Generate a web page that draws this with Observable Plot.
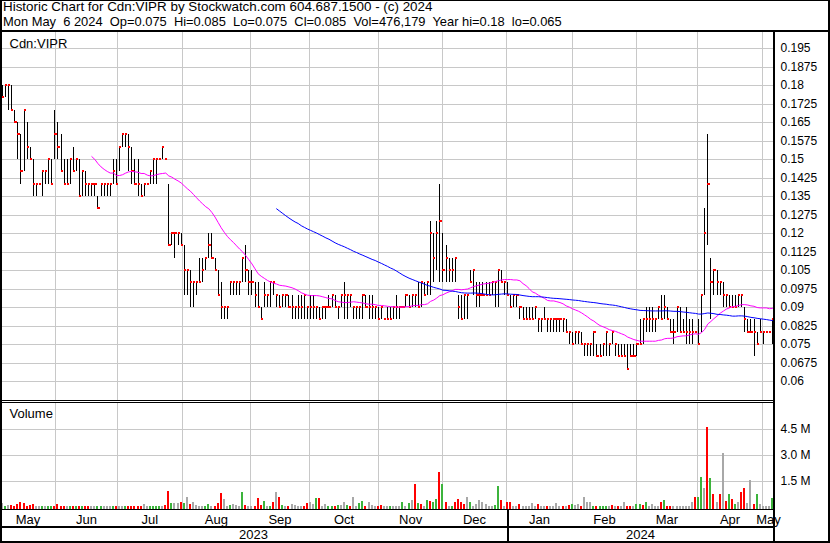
<!DOCTYPE html>
<html><head><meta charset="utf-8">
<script src="https://cdn.jsdelivr.net/npm/d3@7"></script>
<script src="https://cdn.jsdelivr.net/npm/@observablehq/plot@0.6"></script>
<style>
body{margin:0;background:#fff;}
#chart{position:relative;width:830px;height:543px;background:#fff;font-family:Arial,"Liberation Sans",sans-serif;color:#000;overflow:hidden;}
#chart svg{position:absolute;left:0;}
.hdr{position:absolute;left:3px;white-space:pre;line-height:12px;height:12px;}
.ln{position:absolute;background:#000;}
</style></head><body><div id="chart"></div>
<script>
// ---- data ----
const headerLines = [
  "Historic Chart for Cdn:VIPR by Stockwatch.com 604.687.1500 - (c) 2024",
  "Mon May  6 2024  Op=0.075  Hi=0.085  Lo=0.075  Cl=0.085  Vol=476,179  Year hi=0.18  lo=0.065"
];
const symbolLabel = "Cdn:VIPR";
const volumeLabel = "Volume";
const low = [
.175,.175,.17,.17,.165,.15,.14,.145,.15,.15,
.135,.135,.14,.135,.14,.14,.14,.15,.15,.145,
.14,.14,.14,.145,.145,.135,.135,.135,.135,.135,
.135,.13,.135,.135,.135,.135,.14,.14,.145,.155,
.155,.145,.14,.14,.135,.135,.135,.14,.14,.14,
.14,.15,.15,.15,.115,.115,.11,.115,.115,.095,
.095,.09,.09,.095,.1,.1,.105,.11,.11,.105,
.095,.085,.085,.085,.095,.095,.095,.095,.1,.1,
.095,.095,.09,.09,.085,.09,.09,.09,.095,.09,
.09,.09,.09,.09,.085,.085,.085,.085,.085,.085,
.085,.085,.085,.085,.085,.085,.09,.09,.09,.085,
.09,.085,.085,.09,.085,.085,.085,.085,.09,.085,
.085,.085,.085,.085,.085,.085,.085,.085,.085,.085,
.09,.09,.09,.09,.09,.09,.09,.095,.095,.095,
.1,.105,.1,.1,.1,.1,.1,.1,.085,.085,
.085,.085,.1,.095,.09,.09,.095,.095,.095,.095,
.09,.09,.1,.095,.095,.09,.09,.09,.085,.085,
.085,.085,.085,.085,.08,.08,.085,.08,.08,.08,
.08,.08,.08,.08,.075,.075,.075,.075,.075,.07,
.07,.07,.07,.07,.07,.07,.07,.07,.075,.07,
.07,.07,.07,.065,.07,.07,.07,.075,.075,.08,
.08,.08,.08,.085,.085,.085,.085,.08,.075,.08,
.08,.08,.075,.075,.075,.08,.075,.08,.095,.115,
.085,.095,.095,.095,.09,.09,.09,.09,.09,.09,
.09,.08,.08,.08,.07,.075,.08,.075,.08,.08,
.075];
const high = [
.18,.18,.18,.18,.17,.165,.16,.17,.165,.155,
.15,.14,.14,.145,.145,.15,.15,.17,.165,.16,
.15,.15,.15,.155,.15,.15,.145,.145,.14,.14,
.14,.135,.14,.14,.14,.14,.15,.15,.155,.16,
.16,.16,.155,.15,.15,.14,.14,.14,.145,.15,
.15,.15,.155,.15,.14,.12,.12,.12,.12,.115,
.105,.105,.1,.1,.11,.11,.11,.12,.12,.11,
.105,.1,.09,.09,.1,.1,.1,.1,.11,.115,
.105,.105,.1,.1,.09,.1,.095,.1,.1,.095,
.095,.095,.095,.095,.095,.09,.095,.095,.095,.09,
.095,.095,.09,.09,.09,.09,.095,.095,.095,.09,
.095,.1,.095,.095,.09,.09,.09,.095,.095,.095,
.095,.09,.09,.09,.085,.09,.09,.09,.095,.09,
.09,.095,.095,.095,.095,.1,.1,.1,.1,.125,
.12,.125,.14,.12,.115,.11,.11,.11,.095,.095,
.095,.095,.105,.105,.1,.1,.1,.1,.1,.1,
.1,.105,.105,.1,.1,.095,.095,.095,.09,.09,
.09,.09,.09,.09,.085,.085,.09,.085,.085,.085,
.085,.085,.085,.085,.08,.08,.08,.08,.08,.075,
.075,.075,.08,.075,.075,.075,.08,.075,.08,.075,
.075,.075,.075,.075,.075,.075,.075,.085,.085,.09,
.09,.09,.085,.09,.095,.095,.09,.085,.085,.09,
.09,.085,.09,.085,.085,.08,.085,.095,.13,.16,
.11,.105,.105,.1,.1,.095,.095,.095,.095,.095,
.095,.09,.085,.085,.085,.08,.085,.08,.08,.08,
.085];
const close = [
.175,.18,.18,.17,.165,.16,.145,.17,.155,.15,
.14,.14,.14,.145,.145,.15,.14,.16,.155,.145,
.14,.14,.15,.145,.15,.135,.145,.14,.14,.14,
.14,.13,.14,.14,.14,.14,.145,.14,.155,.16,
.16,.155,.145,.14,.14,.135,.14,.14,.145,.15,
.15,.15,.155,.15,.115,.12,.12,.12,.115,.105,
.105,.1,.1,.1,.1,.105,.11,.115,.11,.105,
.095,.09,.09,.09,.1,.1,.1,.1,.11,.105,
.1,.1,.095,.09,.085,.095,.095,.1,.1,.095,
.09,.095,.095,.09,.09,.09,.09,.09,.095,.09,
.09,.09,.09,.085,.09,.09,.09,.095,.09,.09,
.095,.095,.095,.095,.09,.09,.09,.095,.09,.09,
.09,.09,.085,.09,.085,.085,.085,.09,.09,.09,
.09,.095,.09,.095,.095,.09,.1,.095,.1,.12,
.11,.12,.125,.105,.11,.105,.105,.11,.09,.085,
.095,.095,.1,.105,.095,.095,.095,.095,.095,.1,
.1,.105,.1,.1,.095,.09,.095,.095,.09,.085,
.085,.085,.085,.09,.085,.085,.085,.085,.085,.085,
.085,.085,.085,.08,.08,.075,.08,.08,.075,.075,
.075,.075,.08,.07,.07,.075,.08,.075,.08,.075,
.07,.07,.07,.065,.07,.07,.075,.075,.085,.085,
.085,.085,.085,.09,.085,.09,.085,.08,.08,.09,
.08,.08,.08,.08,.08,.08,.075,.095,.12,.14,
.1,.105,.1,.1,.095,.095,.09,.09,.09,.095,
.095,.085,.08,.08,.08,.075,.08,.08,.08,.08,
.085];
// volume in thousands of shares
const volume = [
210,20,90,90,50,130,260,210,50,90,
170,20,20,30,20,20,30,50,170,20,
20,20,20,50,20,50,30,20,20,20,
20,20,50,20,20,20,20,20,20,20,
20,20,20,20,50,30,150,20,20,20,
20,20,20,110,920,230,230,230,280,210,
570,150,280,90,20,20,30,130,20,20,
230,760,440,20,110,150,110,20,860,110,
20,50,20,510,90,340,20,50,280,860,
570,90,20,20,150,90,50,20,20,230,
240,130,480,510,20,170,30,30,30,90,
90,260,90,20,570,50,210,340,20,260,
90,20,20,90,20,20,50,20,20,20,
260,50,210,400,1320,210,130,20,380,320,
240,440,2010,1320,280,20,50,280,440,240,
130,570,280,50,150,400,240,130,20,10,
90,1210,380,10,240,280,20,20,170,20,
20,20,210,20,150,20,20,20,20,20,
210,20,20,20,90,150,90,130,50,570,
280,280,20,50,20,20,20,20,110,20,
20,20,280,50,50,20,150,150,90,240,
50,150,50,20,280,400,20,20,50,20,
20,50,50,50,280,570,570,1690,1090,4610,
1630,710,280,710,3090,340,740,440,170,280,
860,1050,210,1510,170,740,170,20,20,20,
476];
// u = up (green), d = down (red), n = unchanged (grey)
const volDir = (
"nunddddddd"+"dnnunuuddd"+"dnudududdn"+"nuunnnudnn"+"udddddnnuu"+
"uunddunndu"+"ndnnnnuund"+"ddnnunnnud"+"nndddunudn"+"dundnnnndd"+
"nnudnnuudu"+"nnudnnuudn"+"nnddnnunnn"+"unundudnud"+"uududnuddd"+
"dnunnnnnnn"+"uudnddnndn"+"nnnndnndnn"+"nndndunndn"+"nnuduuundn"+
"dnnddnuudu"+"nnnnduddnn"+"nnnnnduund"+"udndndudun"+"ddnndunnnn"+"u").split("");
const priceTicks = [0.06,0.0675,0.075,0.0825,0.09,0.0975,0.105,0.1125,0.12,0.1275,0.135,0.1425,0.15,0.1575,0.165,0.1725,0.18,0.1875,0.195];
const priceTickLabels = ["0.06","0.0675","0.075","0.0825","0.09","0.0975","0.105","0.1125","0.12","0.1275","0.135","0.1425","0.15","0.1575","0.165","0.1725","0.18","0.1875","0.195"];
const volTicks = [1500,3000,4500];
const volTickLabels = ["1.5 M","3.0 M","4.5 M"];
// month boundaries, in trading-day slots
const monthStarts = [17.2,37.3,58.4,80.5,99.7,122.1,142.9,163.6,185.1,205.8,225.6,246.8];
const monthLabels = ["May","Jun","Jul","Aug","Sep","Oct","Nov","Dec","Jan","Feb","Mar","Apr","May"];
const yearLabels = ["2023","2024"];

// ---- build ----
const N = close.length;
if (low.length!==N||high.length!==N||volume.length!==N||volDir.length!==N) throw new Error("length mismatch "+[low.length,high.length,close.length,volume.length,volDir.length]);
const bars = close.map((c,i)=>({i, low:low[i], high:high[i], close:c, vol:volume[i], dir:volDir[i]}));
const xDomain = [-0.65, N - 0.35];
const FONT = "Arial, 'Liberation Sans', sans-serif";
const GRID = "#c8c8c8";
const chart = document.getElementById("chart");

const hdrStyle = [{top: 1, size: 13.4}, {top: 16, size: 12.9}];
headerLines.forEach((t,k)=>{const d=document.createElement("div");d.className="hdr";d.style.top=hdrStyle[k].top+"px";d.style.fontSize=hdrStyle[k].size+"px";d.textContent=t;chart.appendChild(d);});

const priceDomain = [0.051892, 0.201892];
const price = Plot.plot({
  width: 830, height: 370, marginLeft: 0, marginRight: 56, marginTop: 0, marginBottom: 0,
  style: {fontFamily: FONT, fontSize: "12px", background: "transparent", overflow: "visible", color: "#000"},
  x: {domain: xDomain, axis: null},
  y: {domain: priceDomain, label: null},
  marks: [
    Plot.ruleY(priceTicks, {stroke: GRID, strokeWidth: 1, shapeRendering: "crispEdges"}),
    Plot.ruleX(monthStarts, {stroke: GRID, strokeWidth: 1, shapeRendering: "crispEdges"}),
    Plot.axisY(priceTicks, {anchor: "right", tickSize: 0, tickPadding: 6, label: null, fontSize: 12,
      tickFormat: d => priceTickLabels[priceTicks.indexOf(d)]}),
    Plot.ruleX(bars, {x: "i", y1: "low", y2: "high", stroke: "#000", strokeWidth: 1, shapeRendering: "crispEdges"}),
    Plot.rect(bars, {x1: "i", x2: "i", y1: "close", y2: "close", insetLeft: 0, insetRight: -2.2, insetTop: -1.1, insetBottom: -1.1, fill: "#ff0000", shapeRendering: "crispEdges"}),
    Plot.line(bars, Plot.windowY({k: 30, anchor: "end", strict: true}, {x: "i", y: "close", stroke: "#ff00ff", strokeWidth: 1})),
    Plot.line(bars, Plot.windowY({k: 90, anchor: "end", strict: true}, {x: "i", y: "close", stroke: "#0000ff", strokeWidth: 1})),
    Plot.text([symbolLabel], {frameAnchor: "top-left", dx: 9, dy: 12, lineAnchor: "middle", textAnchor: "start", fontSize: 13})
  ]
});
price.style.top = "31px";
chart.appendChild(price);

const volMin = -144, volMax = 6029;
const vol = Plot.plot({
  width: 830, height: 107, marginLeft: 0, marginRight: 56, marginTop: 0, marginBottom: 0,
  style: {fontFamily: FONT, fontSize: "12px", background: "transparent", overflow: "visible", color: "#000"},
  x: {domain: xDomain, axis: null},
  y: {domain: [volMin, volMax], label: null},
  color: {domain: ["u","d","n"], range: ["#3cb43c","#ff0000","#a8a8a8"]},
  marks: [
    Plot.ruleY(volTicks, {stroke: GRID, strokeWidth: 1, shapeRendering: "crispEdges"}),
    Plot.ruleX(monthStarts, {stroke: GRID, strokeWidth: 1, shapeRendering: "crispEdges"}),
    Plot.axisY(volTicks, {anchor: "right", tickSize: 0, tickPadding: 6, label: null, fontSize: 12,
      tickFormat: d => volTickLabels[volTicks.indexOf(d)]}),
    Plot.rect(bars, {x1: "i", x2: "i", y1: () => volMin, y2: "vol", insetLeft: -1, insetRight: -1, fill: "dir", shapeRendering: "crispEdges"}),
    Plot.text([volumeLabel], {frameAnchor: "top-left", dx: 9, dy: 11, lineAnchor: "middle", textAnchor: "start", fontSize: 13})
  ]
});
vol.style.top = "402px";
chart.appendChild(vol);

const edges = [xDomain[0], ...monthStarts, xDomain[1]];
const months = monthLabels.map((m,k)=>({label: m, x: (edges[k]+edges[k+1])/2}));
const yb = monthStarts[monthLabels.indexOf("Jan") - 1];
const yEdges = [xDomain[0], yb, xDomain[1]];
const years = yearLabels.map((y,k)=>({label: y, x: (yEdges[k]+yEdges[k+1])/2}));
const axis = Plot.plot({
  width: 830, height: 34, marginLeft: 0, marginRight: 56, marginTop: 0, marginBottom: 0,
  style: {fontFamily: FONT, fontSize: "13px", background: "transparent", overflow: "visible", color: "#000"},
  x: {domain: xDomain, axis: null},
  marks: [
    Plot.text(months, {x: "x", text: "label", frameAnchor: "top", dy: 10, lineAnchor: "middle", fontSize: 13}),
    Plot.text(years, {x: "x", text: "label", frameAnchor: "top", dy: 25, lineAnchor: "middle", fontSize: 13})
  ]
});
axis.style.top = "509px";
chart.appendChild(axis);

// frame lines
const xYear = 2 + (yb + 0.65) * 3.08 - 1;
[[0,0,830,1],[0,30,830,2],[0,0,2,543],[828,0,2,543],[0,541,830,2],
 [0,400,774,1],[0,402,774,1],[0,509,774,1],[0,526,774,2],[773,31,2,512],[xYear,509,2,33]]
.forEach(([l,t,w,h])=>{const d=document.createElement("div");d.className="ln";Object.assign(d.style,{left:l+"px",top:t+"px",width:w+"px",height:h+"px"});chart.appendChild(d);});
</script></body></html>
